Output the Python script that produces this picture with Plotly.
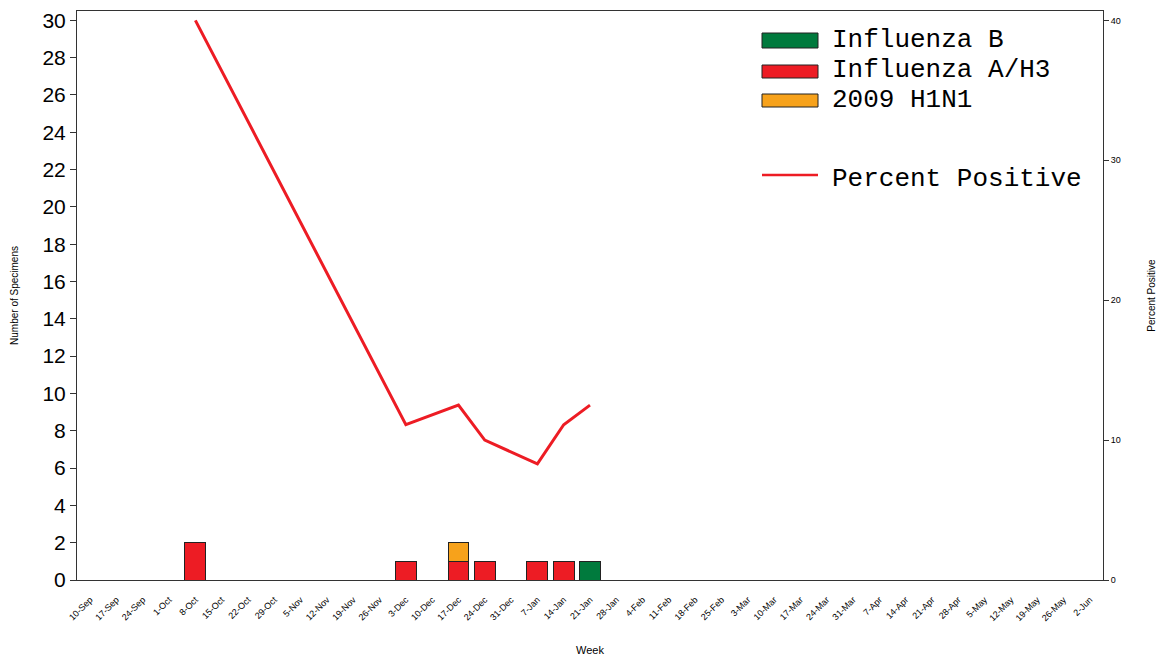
import plotly.graph_objects as go

weeks = ["10-Sep", "17-Sep", "24-Sep", "1-Oct", "8-Oct", "15-Oct", "22-Oct", "29-Oct",
         "5-Nov", "12-Nov", "19-Nov", "26-Nov", "3-Dec", "10-Dec", "17-Dec", "24-Dec",
         "31-Dec", "7-Jan", "14-Jan", "21-Jan", "28-Jan", "4-Feb", "11-Feb", "18-Feb",
         "25-Feb", "3-Mar", "10-Mar", "17-Mar", "24-Mar", "31-Mar", "7-Apr", "14-Apr",
         "21-Apr", "28-Apr", "5-May", "12-May", "19-May", "26-May", "2-Jun"]

flu_b_weeks = ["21-Jan"]
flu_b_counts = [1]

flu_ah3_weeks = ["8-Oct", "3-Dec", "17-Dec", "24-Dec", "7-Jan", "14-Jan"]
flu_ah3_counts = [2, 1, 1, 1, 1, 1]

h1n1_weeks = ["17-Dec"]
h1n1_counts = [1]

pct_weeks = ["8-Oct", "3-Dec", "17-Dec", "24-Dec", "7-Jan", "14-Jan", "21-Jan"]
pct_values = [40.0, 11.1, 12.5, 10.0, 8.3, 11.1, 12.5]

series_names = ["Influenza B", "Influenza A/H3", "2009 H1N1"]
line_name = "Percent Positive"

RED = "#ED1C24"
ORANGE = "#F7A21B"
GREEN = "#007A3D"
EDGE = "#222222"
series_colors = [GREEN, RED, ORANGE]

W, H = 1159, 658
ML, MR, MT, MB = 77, 56, 11, 78
PW, PH = W - ML - MR, H - MT - MB


def px_x(p):
    return (p - ML) / PW


def px_y(p):
    return (H - MB - p) / PH


fig = go.Figure()
for name, wk, cnt, col in zip(series_names,
                              [flu_b_weeks, flu_ah3_weeks, h1n1_weeks],
                              [flu_b_counts, flu_ah3_counts, h1n1_counts],
                              series_colors):
    fig.add_trace(go.Bar(x=wk, y=cnt, name=name, showlegend=False,
                         marker=dict(color=col, line=dict(color=EDGE, width=1))))
fig.add_trace(go.Scatter(x=pct_weeks, y=pct_values, name=line_name, showlegend=False,
                         mode="lines", line=dict(color=RED, width=3), yaxis="y2"))

# legend drawn as layout shapes/annotations (wide swatches like the original)
shapes = []
annotations = []
legend_font = dict(family="Liberation Mono, DejaVu Sans Mono, monospace", size=26,
                   color="black")
box_rows = [(33, 48), (65, 78), (94, 107)]
for (top, bot), name, col in zip(box_rows, series_names, series_colors):
    shapes.append(dict(type="rect", xref="paper", yref="paper",
                       x0=px_x(762), x1=px_x(818), y0=px_y(bot), y1=px_y(top),
                       fillcolor=col, line=dict(color=EDGE, width=1)))
    annotations.append(dict(text=name, xref="paper", yref="paper",
                            x=px_x(830), y=px_y((top + bot) / 2 - 1),
                            xanchor="left", yanchor="middle", showarrow=False,
                            font=legend_font))
shapes.append(dict(type="line", xref="paper", yref="paper",
                   x0=px_x(762), x1=px_x(818), y0=px_y(175), y1=px_y(175),
                   line=dict(color=RED, width=2.5)))
annotations.append(dict(text=line_name, xref="paper", yref="paper",
                        x=px_x(830), y=px_y(179), xanchor="left", yanchor="middle",
                        showarrow=False, font=legend_font))

axis_color = "#333333"
fig.update_layout(
    width=W, height=H,
    margin=dict(l=ML, r=MR, t=MT, b=MB),
    paper_bgcolor="white", plot_bgcolor="white",
    barmode="stack", bargap=0.21,
    showlegend=False,
    font=dict(family="Liberation Sans, Arial, sans-serif", color="black"),
    shapes=shapes, annotations=annotations,
    xaxis=dict(type="category", categoryorder="array", categoryarray=weeks,
               range=[-0.5, 38.5], tickangle=-45,
               tickfont=dict(size=9, color="black"), automargin=False,
               ticklabelstandoff=10,
               showline=True, linecolor=axis_color, linewidth=1, mirror=True,
               ticks="", showgrid=False,
               title=dict(text="Week", font=dict(size=11), standoff=24)),
    yaxis=dict(range=[0, 30.5], dtick=2, tickfont=dict(size=21), automargin=False,
               showline=True, linecolor=axis_color, linewidth=1, mirror=True,
               ticks="outside", ticklen=6, tickcolor=axis_color, showgrid=False,
               zeroline=False,
               title=dict(text="Number of Specimens", font=dict(size=10), standoff=21)),
    yaxis2=dict(range=[0, 40.67], dtick=10, overlaying="y", side="right",
                tickfont=dict(size=9), ticks="outside", ticklen=5, automargin=False,
                tickcolor=axis_color, showgrid=False, zeroline=False,
                showline=False,
                title=dict(text="Percent Positive", font=dict(size=10), standoff=28)),
)

fig.write_html("out.html", config={"displayModeBar": False},
               post_script="document.body.style.margin='0';"
                           "document.body.style.padding='0';")
